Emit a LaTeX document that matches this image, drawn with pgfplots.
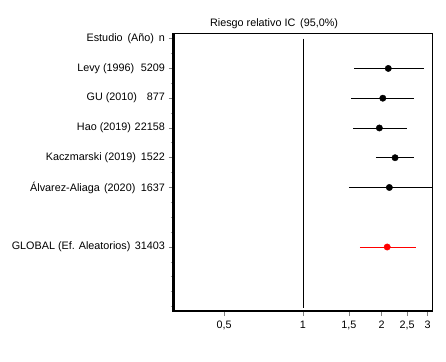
\documentclass[border=0pt]{standalone}
\usepackage{pgfplots}
\pgfplotsset{compat=1.18}
\usepackage{fontspec}
\setmainfont{Liberation Sans}
\newcommand{\lf}{\fontsize{10.8}{12.5}\selectfont}
\begin{document}
\lf
\begin{tikzpicture}[x=1pt,y=1pt]
\useasboundingbox (0,0) rectangle (446,361);
\begin{axis}[
  at={(173.5pt,50pt)}, anchor=south west,
  scale only axis, width=258.5pt, height=278pt,
  xmode=log, log basis x=2,
  xmin=0.32, xmax=3.115,
  ymin=-0.19, ymax=9.15, y dir=reverse,
  xtick={0.5,1,1.5,2,2.5,3},
  xticklabels={0{,}5,1,1{,}5,2,2{,}5,3},
  ytick={0,1,2,3,4,5,7},
  yticklabels={
    {Estudio\hspace{0.45em}(Año)\hspace{0.45em}n\hspace{0.25em}},
    {Levy (1996)\hspace{0.6em}5209},
    {GU (2010)\hspace{0.9em}877},
    {Hao (2019)\hspace{0.35em}22158},
    {Kaczmarski (2019)\hspace{0.45em}1522},
    {Álvarez-Aliaga\hspace{0.4em}(2020)\hspace{0.5em}1637},
    {GLOBAL (Ef. Aleatorios)\hspace{0.4em}31403}},
  minor ytick={0.5,1.5,2.5,3.5,4.5,5.5,6,6.5,7.5,8,8.5,9},
  tick align=outside,
  major tick length=5pt, minor tick length=3pt,
  tick style={gray, line width=0.7pt},
  minor tick style={gray!70, line width=0.7pt},
  xtick pos=bottom, ytick pos=left,
  tick label style={font=\lf},
  yticklabel style={inner sep=0pt, xshift=-3.5pt},
  xticklabel style={yshift=-1pt},
  axis line style={line width=0.8pt},
  clip mode=individual,
  unbounded coords=jump,
]
% reference line at RR = 1
\addplot[black, line width=0.8pt] coordinates {(1,0) (1,9.05)};
% confidence intervals (study rows)
\addplot[black, line width=0.9pt] coordinates {
  (1.57,1) (2.90,1) (nan,nan)
  (1.53,2) (2.65,2) (nan,nan)
  (1.56,3) (2.51,3) (nan,nan)
  (1.90,4) (2.67,4) (nan,nan)
  (1.50,5) (3.40,5)};
% point estimates
\addplot[only marks, mark=*, mark size=3.2pt, black] coordinates {
  (2.12,1) (2.02,2) (1.96,3) (2.25,4) (2.14,5)};
% pooled estimate
\addplot[red, line width=0.9pt] coordinates {(1.65,7) (2.70,7)};
\addplot[only marks, mark=*, mark size=3.2pt, red] coordinates {(2.10,7)};
% heavy left and bottom axis lines
\draw[line width=3pt] (axis cs:0.32,-0.19) -- (axis cs:0.32,9.15);
\draw[line width=2.5pt, line cap=rect] (axis cs:0.32,9.15) -- (axis cs:3.115,9.15);
\node[anchor=base, font=\lf] at (rel axis cs:0.389,1) [yshift=6.5pt] {Riesgo relativo IC\hspace{0.45em}(95,0\%)};
\end{axis}
\end{tikzpicture}
\end{document}
